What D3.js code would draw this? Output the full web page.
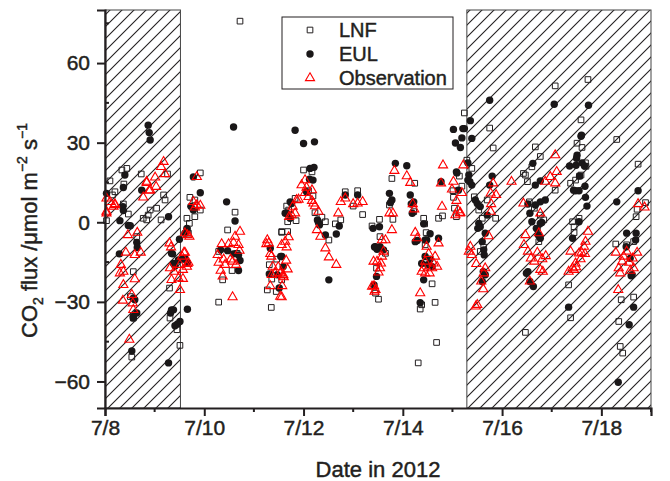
<!DOCTYPE html>
<html>
<head>
<meta charset="utf-8">
<script src="https://cdn.jsdelivr.net/npm/d3@7"></script>
<style>
  body { margin: 0; background: #fff; }
  text { font-family: "Liberation Sans", Arial, sans-serif; fill: #231f20;
         stroke: #231f20; stroke-width: 0.45px; }
</style>
</head>
<body>
<script>
// day of July 2012 (fractional), CO2 flux (umol m-2 s-1)
var lnf = [
  [8.03,0.6],[8.10,15.6],[8.15,10.3],[8.20,11.5],[8.34,19.7],[8.44,20.3],[8.38,14.4],[8.37,6.9],[8.47,3.1],[8.73,18.2],
  [8.64,-5.4],[8.57,-18.6],[8.51,-28.0],[8.57,-36.1],[8.54,-50.8],[8.77,1.5],[8.84,0.9],[8.87,2.7],[8.91,4.6],[9.04,5.3],
  [9.13,0.9],[9.18,10.3],[9.21,8.4],[9.26,18.2],[9.30,-24.8],[9.31,-36.1],[9.45,-40.5],[9.51,-46.4],[9.65,1.5],[9.66,-2.9],
  [9.68,-4.1],[9.70,-0.4],[9.71,9.4],[9.81,8.4],[9.81,2.1],[9.92,4.6],[9.92,18.6],[10.62,3.8],[10.47,-2.9],[10.29,-11.0],
  [10.66,-11.7],[10.56,-18.2],[10.37,-21.7],[10.29,-30.1],[10.72,75.8],[11.56,-3.8],[11.46,-13.9],[11.31,-16.0],[11.36,-21.4],
  [11.56,-21.7],[11.27,-25.5],[11.45,-26.1],[11.35,-32.1],[11.66,6.1],[11.70,4.6],[11.83,9.0],[11.85,0.6],[11.68,0.2],
  [11.56,-3.5],[11.68,-3.5],[12.00,19.7],[12.17,19.0],[12.10,11.9],[12.19,9.9],[12.23,3.6],[12.37,1.9],[12.44,0.2],
  [12.51,-6.7],[12.64,-0.6],[12.75,0.9],[12.84,11.5],[13.09,11.9],[13.00,6.1],[13.19,2.9],[13.38,-1.4],[13.53,1.1],
  [13.54,-5.4],[13.65,-11.7],[13.47,-17.3],[13.45,-26.7],[13.51,-29.0],[13.73,6.5],[13.80,1.1],[13.78,16.5],[14.24,14.7],
  [14.22,4.0],[14.42,1.5],[14.44,-0.6],[14.47,-3.9],[14.45,-8.5],[14.59,-23.2],[14.65,-30.2],[14.38,-31.1],[14.35,-32.7],
  [14.68,-45.3],[14.31,-53.0],[14.72,1.5],[14.80,2.4],[15.04,5.3],[15.08,2.1],[15.01,11.9],[15.02,9.4],[15.14,17.4],
  [15.19,13.6],[15.24,41.2],[15.29,23.4],[15.39,20.3],[15.44,9.6],[15.53,4.6],[15.70,8.4],[15.87,1.5],[15.60,1.5],
  [15.63,-9.4],[15.56,-11.0],[15.75,35.5],[15.82,28.0],[16.43,18.4],[16.51,15.3],[16.60,20.9],[16.47,17.8],[16.55,7.7],
  [16.65,5.3],[16.77,2.7],[16.84,0.9],[16.71,-2.3],[16.74,-7.3],[16.47,-41.5],[16.67,28.4],[16.77,24.8],[17.07,51.4],
  [17.07,12.1],[17.73,53.8],[17.59,38.6],[17.51,29.8],[17.61,28.2],[17.68,22.4],[17.69,21.1],[17.59,17.8],[17.48,15.9],
  [17.38,14.7],[17.56,17.4],[17.55,1.5],[17.42,0.2],[17.45,-1.7],[17.45,-3.9],[17.34,-23.6],[17.38,-36.0],[18.31,31.2],
  [18.74,21.9],[18.89,7.4],[18.72,4.9],[18.70,2.1],[18.29,-8.2],[18.51,-8.5],[18.65,-7.3],[18.40,-29.2],[18.65,-28.2],
  [18.35,-37.4],[18.38,-46.8],[18.43,-49.3]
];

var eul = [
  [8.03,10.9],[8.40,17.8],[8.37,13.1],[8.74,12.1],[8.36,5.9],[8.37,4.4],[8.30,0.6],[8.47,-1.2],[8.51,-1.3],[8.87,36.6],
  [8.89,33.8],[8.91,31.0],[9.28,2.1],[8.64,-7.6],[8.65,-9.5],[8.29,-11.9],[9.50,-6.4],[9.34,-11.7],[9.38,-15.5],[9.41,-16.5],
  [9.48,-14.2],[9.57,-13.9],[9.61,-13.6],[9.36,-11.9],[9.66,-15.2],[8.57,-28.6],[8.60,-29.2],[8.57,-36.1],[8.64,-34.2],
  [8.57,-35.5],[9.34,-33.0],[9.32,-34.2],[9.38,-33.0],[9.66,-32.8],[9.51,-37.4],[9.46,-38.3],[9.41,-39.0],[8.54,-48.5],
  [9.28,-53.0],[9.78,17.1],[9.92,11.1],[9.73,6.0],[9.78,4.6],[9.65,-2.3],[9.61,-4.1],
  [10.59,35.9],[10.45,7.7],[10.62,0.5],[10.33,-10.4],[10.47,-10.7],[10.59,-11.9],[10.69,-12.3],[10.72,-14.4],[10.69,-18.2],
  [11.33,-9.8],[11.54,-12.9],[11.31,-19.5],[11.47,-19.8],[11.51,-24.8],[11.73,7.7],[11.66,3.4],[11.73,1.5],[11.56,-12.9],
  [11.59,-16.7],[11.63,3.4],[11.76,7.1],[11.83,34.7],[12.00,29.7],[12.22,30.3],[12.13,20.3],[12.21,20.7],[12.12,16.2],
  [12.19,15.9],[12.06,11.5],[12.28,0.9],[12.30,-0.1],[12.32,-1.0],[12.44,-4.8],[12.66,-4.4],[12.72,-1.4],[12.51,-21.7],
  [12.84,10.3],[13.09,10.3],[13.40,-2.3],[13.53,-1.7],[13.43,-9.3],[13.48,-10.2],[13.54,-9.2],[13.61,-10.4],[13.45,-9.2],
  [13.47,-20.4],[13.42,-23.6],[13.73,10.9],[13.78,8.4],[13.75,7.4],[13.85,22.2],[14.08,21.3],[14.15,10.3],[14.22,7.7],
  [14.17,6.9],[14.19,3.4],[14.42,-0.6],[14.55,-4.3],[14.48,-6.7],[14.25,-7.3],[14.29,-6.9],[14.72,-6.0],[14.45,-6.7],
  [14.45,-12.9],[14.55,-13.9],[14.38,-15.5],[14.50,-16.0],[14.59,-16.7],[14.42,-21.7],[14.35,-30.3],
  [14.77,15.3],[15.08,19.0],[15.12,12.1],[15.02,35.0],[15.21,35.3],[15.19,31.8],[15.06,29.9],[15.16,28.2],[15.36,38.3],
  [15.24,35.3],[15.39,31.6],[15.31,22.4],[15.35,15.3],[15.33,17.8],[15.39,14.0],[15.09,18.6],[15.31,15.9],[15.75,46.0],
  [15.80,17.4],[15.75,14.0],[15.46,8.4],[15.50,7.1],[15.56,5.9],[15.53,-0.4],[15.56,-1.7],[15.51,-2.3],[15.66,-4.1],
  [15.70,2.7],[15.60,-7.3],[15.63,-10.4],[15.64,-12.3],[15.62,-18.6],[15.66,-19.8],[15.60,-22.3],
  [16.52,6.9],[16.56,3.4],[16.60,0.2],[16.80,-0.1],[16.77,-0.4],[16.69,-2.3],[16.73,-4.8],[16.77,-6.0],[16.52,-18.6],
  [16.49,-19.2],[16.56,-22.3],[16.63,-24.2],[16.67,14.0],[16.77,15.6],[16.87,8.4],[16.77,7.7],[16.67,6.5],[16.62,22.2],
  [17.05,44.5],[17.74,44.1],[17.59,32.4],[17.60,32.8],[17.51,25.3],[17.50,24.1],[17.36,21.2],[17.49,21.5],[17.61,22.4],
  [17.66,21.2],[17.56,17.4],[17.48,11.9],[17.55,11.9],[17.67,13.6],[17.44,12.1],[17.68,9.4],[17.71,6.1],[17.55,0.2],
  [17.42,-6.0],[17.34,-32.0],[18.31,7.7],[18.74,11.9],[18.51,-4.1],[18.70,-4.1],[18.69,-6.7],[18.50,-9.2],[18.58,-13.6],
  [18.60,-20.2],[18.62,-19.8],[18.65,-32.0],[18.56,-38.6],[18.34,-60.3]
];

var obs = [
  [8.03,9.0],[8.10,7.7],[8.20,6.5],[8.17,5.9],[8.03,4.0],[8.20,6.9],[8.03,3.4],[8.46,-4.8],[8.65,-3.9],[8.42,-11.4],
  [8.60,-12.3],[8.72,-11.4],[8.32,-16.0],[8.37,-18.6],[8.30,-19.2],[8.60,-21.4],[8.37,-23.6],[8.54,-27.3],[8.56,-30.5],
  [8.57,-33.0],[8.36,-29.5],[8.49,-44.2],[8.77,9.4],[8.84,15.3],[8.91,12.1],[9.03,13.4],[9.01,16.9],[9.13,20.9],
  [9.18,22.8],[9.21,18.2],[8.84,14.9],[8.89,11.9],[9.30,-7.9],[9.33,-9.4],[9.59,-11.4],[9.55,-12.9],[9.66,-15.7],
  [9.51,-16.0],[9.31,-17.3],[9.39,-18.6],[9.34,-21.7],[9.48,-21.1],[9.57,-21.3],[9.51,-25.5],[9.61,-4.1],[9.66,-4.8],
  [9.70,-5.4],[9.68,-15.2],[9.65,-16.7],[9.57,-17.9],[9.61,-11.4],[9.78,7.7],[9.85,6.5],[9.92,6.3],[9.81,5.6],[9.85,17.1],
  [10.72,-3.5],[10.62,-5.4],[10.35,-8.2],[10.49,-8.2],[10.59,-7.7],[10.69,-8.5],[10.71,-10.7],[10.27,-12.3],[10.39,-14.0],
  [10.53,-14.0],[10.57,-14.8],[10.29,-15.2],[10.64,-16.0],[10.42,-16.0],[10.33,-18.2],[10.37,-20.4],[10.57,-28.2],
  [11.27,-6.7],[11.25,-8.2],[11.30,-7.9],[11.33,-11.9],[11.35,-12.9],[11.38,-16.7],[11.49,-16.9],[11.43,-19.2],
  [11.53,-19.2],[11.36,-19.8],[11.59,-20.4],[11.33,-24.0],[11.53,-28.0],[11.70,-5.6],[11.63,-7.3],[11.66,-9.4],
  [11.56,-8.5],[11.65,-14.4],[11.68,-17.7],[11.59,-19.8],[11.60,-20.7],[11.57,-24.0],[11.56,-28.2],[11.78,5.9],
  [11.86,8.4],[11.76,2.7],[11.83,3.4],[11.71,2.1],[11.90,8.6],[11.96,14.0],[12.03,15.9],[12.06,13.1],[12.17,12.1],
  [12.03,11.1],[12.10,9.6],[12.17,8.1],[12.20,7.1],[12.23,6.1],[12.30,4.0],[12.27,-2.9],[12.34,-5.4],[12.44,-9.8],
  [12.51,-13.2],[12.66,-16.0],[12.70,3.4],[12.75,7.7],[12.84,9.0],[13.00,6.9],[13.09,7.1],[13.19,7.7],
  [13.41,-14.8],[13.38,-24.2],[13.43,-26.1],[13.58,-6.7],[13.65,-6.7],[13.61,-11.0],[13.58,-12.9],[13.48,-14.8],
  [13.56,-15.5],[13.54,-17.3],[13.51,-18.9],[13.45,-25.5],[13.42,-24.0],[13.73,3.4],[13.80,3.4],[13.78,-2.9],
  [13.83,19.4],[14.08,17.4],[14.15,14.9],[14.20,6.9],[14.23,4.9],[14.25,-3.9],[14.29,-6.0],[14.48,-9.2],[14.52,-11.9],
  [14.65,-12.9],[14.45,-14.8],[14.62,-15.5],[14.42,-17.3],[14.59,-17.3],[14.69,-16.7],[14.45,-19.2],[14.54,-19.2],
  [14.38,-18.6],[14.35,-26.7],[14.72,-7.9],[14.81,21.5],[14.77,14.7],[15.02,15.3],[14.99,12.4],[15.19,11.1],[15.22,21.5],
  [14.79,5.9],[15.08,8.1],[15.11,4.6],[15.15,3.4],[15.06,2.7],[15.16,3.6],[15.82,14.7],[15.77,10.9],[15.88,10.3],
  [15.78,6.9],[15.77,4.0],[15.73,-5.2],[15.36,-9.2],[15.33,-11.0],[15.39,-12.3],[15.48,-15.7],[15.66,-17.3],[15.63,-19.2],
  [15.58,-22.3],[15.62,-25.2],[15.50,-31.1],[15.47,-31.7],[16.19,15.3],[16.43,7.1],[16.47,-4.8],[16.44,-8.5],[16.52,-11.0],
  [16.58,-13.6],[16.65,-14.8],[16.71,-11.4],[16.81,-13.9],[16.88,-12.7],[16.77,-17.9],[16.82,-18.6],[16.56,-22.3],
  [16.77,3.4],[16.74,-4.1],[17.07,25.3],[17.10,19.0],[17.07,14.7],[16.97,17.1],[16.87,15.3],[17.73,-3.5],[17.68,-7.3],
  [17.65,-9.2],[17.60,-11.4],[17.55,-11.7],[17.67,-11.9],[17.38,-11.0],[17.58,-13.9],[17.48,-15.5],[17.42,-17.3],
  [17.34,-18.6],[17.45,-17.9],[17.49,-16.9],[18.74,6.9],[18.87,5.6],[18.29,-11.4],[18.51,-11.0],[18.72,-11.4],
  [18.45,-12.9],[18.63,-13.6],[18.42,-14.8],[18.56,-15.2],[18.35,-17.3],[18.58,-18.2],[18.38,-19.2],[18.65,-17.3],
  [18.34,-25.5]
];

// shaded (hatched) periods, in days of July
var hatchPeriods = [[8.0, 9.52], [15.29, 19.0]];

var xTicks = [8, 10, 12, 14, 16, 18];
var yTicks = [-60, -30, 0, 30, 60];
var legendNames = ["LNF", "EUL", "Observation"];

var W = 670, H = 481;
var svg = d3.select("body").append("svg")
    .attr("width", W).attr("height", H);

var x = d3.scaleLinear().domain([8, 19]).range([105, 651]);
var y = d3.scaleLinear().domain([-70, 80]).range([408, 10]);

// hatch pattern
var defs = svg.append("defs");
defs.append("pattern")
    .attr("id", "hatch")
    .attr("patternUnits", "userSpaceOnUse")
    .attr("width", 12).attr("height", 12)
  .append("path")
    .attr("d", "M0,12 L12,0 M-3,3 L3,-3 M9,15 L15,9")
    .attr("stroke", "#231f20")
    .attr("stroke-width", 1.1);

svg.selectAll("rect.hatch")
    .data(hatchPeriods)
  .enter().append("rect")
    .attr("class", "hatch")
    .attr("x", function(d) { return x(d[0]); })
    .attr("y", y(80))
    .attr("width", function(d) { return x(d[1]) - x(d[0]); })
    .attr("height", y(-70) - y(80))
    .attr("fill", "url(#hatch)")
    .attr("stroke", "#444")
    .attr("stroke-width", 1);

// markers
var sq = d3.symbol().type(d3.symbolSquare).size(32);
var tri = d3.symbol().type(d3.symbolTriangle).size(36);

svg.append("g").selectAll("path")
    .data(lnf)
  .enter().append("path")
    .attr("d", sq)
    .attr("transform", function(d) { return "translate(" + x(d[0]) + "," + y(d[1]) + ")"; })
    .attr("fill", "none")
    .attr("stroke", "#231f20")
    .attr("stroke-width", 1);

svg.append("g").selectAll("circle")
    .data(eul)
  .enter().append("circle")
    .attr("cx", function(d) { return x(d[0]); })
    .attr("cy", function(d) { return y(d[1]); })
    .attr("r", 3.7)
    .attr("fill", "#1a1718");

svg.append("g").selectAll("path")
    .data(obs)
  .enter().append("path")
    .attr("d", tri)
    .attr("transform", function(d) { return "translate(" + x(d[0]) + "," + y(d[1]) + ")"; })
    .attr("fill", "none")
    .attr("stroke", "#ff0000")
    .attr("stroke-width", 1.1);

// axes
var xAxis = svg.append("g")
    .attr("transform", "translate(0," + y(-70) + ")")
    .call(d3.axisBottom(x).tickValues(xTicks).tickSize(8).tickPadding(4)
      .tickFormat(function(d) { return "7/" + d; }));
xAxis.select(".domain").attr("stroke", "#231f20").attr("stroke-width", 2.2);
xAxis.selectAll(".tick line").attr("stroke", "#231f20").attr("stroke-width", 2);
xAxis.selectAll(".tick text").attr("font-size", 21).attr("fill", "#231f20")
    .attr("font-family", "Liberation Sans, Arial, sans-serif");

// minor x ticks
svg.append("g").selectAll("line")
    .data(d3.range(9, 20, 2))
  .enter().append("line")
    .attr("x1", function(d) { return x(d); }).attr("x2", function(d) { return x(d); })
    .attr("y1", y(-70)).attr("y2", y(-70) + 4)
    .attr("stroke", "#231f20").attr("stroke-width", 2);

var yAxis = svg.append("g")
    .attr("transform", "translate(" + x(8) + ",0)")
    .call(d3.axisLeft(y).tickValues(yTicks).tickSize(8).tickPadding(7)
      .tickFormat(function(d) { return d < 0 ? "\u2212" + Math.abs(d) : d; }));
yAxis.select(".domain").attr("stroke", "#231f20").attr("stroke-width", 2.2);
yAxis.selectAll(".tick line").attr("stroke", "#231f20").attr("stroke-width", 2);
yAxis.selectAll(".tick text").attr("font-size", 21).attr("fill", "#231f20")
    .attr("font-family", "Liberation Sans, Arial, sans-serif");

// minor y ticks (inside)
svg.append("g").selectAll("line")
    .data([-45, -15, 15, 45, 75])
  .enter().append("line")
    .attr("x1", x(8)).attr("x2", x(8) + 4)
    .attr("y1", function(d) { return y(d); }).attr("y2", function(d) { return y(d); })
    .attr("stroke", "#231f20").attr("stroke-width", 2);

// axis titles
svg.append("text")
    .attr("x", 378).attr("y", 477)
    .attr("text-anchor", "middle")
    .attr("font-size", 22)
    .text("Date in 2012");

var yl = svg.append("text")
    .attr("transform", "translate(37,338) rotate(-90)")
    .attr("font-size", 22);
yl.append("tspan").text("CO");
yl.append("tspan").attr("font-size", 14).attr("dy", 6).text("2");
yl.append("tspan").attr("dy", -6).text(" flux /\u03bcmol m");
yl.append("tspan").attr("font-size", 14).attr("dy", -10).text("\u22122");
yl.append("tspan").attr("dy", 10).text(" s");
yl.append("tspan").attr("font-size", 14).attr("dy", -10).text("\u22121");

// legend
var lg = svg.append("g");
lg.append("rect")
    .attr("x", 282).attr("y", 17).attr("width", 171).attr("height", 72)
    .attr("fill", "#fff").attr("stroke", "#231f20").attr("stroke-width", 1);

legendNames.forEach(function(name, i) {
  var cy = 30 + i * 24;
  if (i == 0) {
    lg.append("path").attr("d", sq).attr("transform", "translate(310," + cy + ")")
      .attr("fill", "none").attr("stroke", "#231f20");
  } else if (i == 1) {
    lg.append("circle").attr("cx", 310).attr("cy", cy).attr("r", 3.7).attr("fill", "#1a1718");
  } else {
    lg.append("path").attr("d", tri).attr("transform", "translate(310," + cy + ")")
      .attr("fill", "none").attr("stroke", "#ff0000").attr("stroke-width", 1.1);
  }
  lg.append("text")
      .attr("x", 339).attr("y", cy + 7)
      .attr("font-size", 20)
      .text(name);
});
</script>
</body>
</html>
